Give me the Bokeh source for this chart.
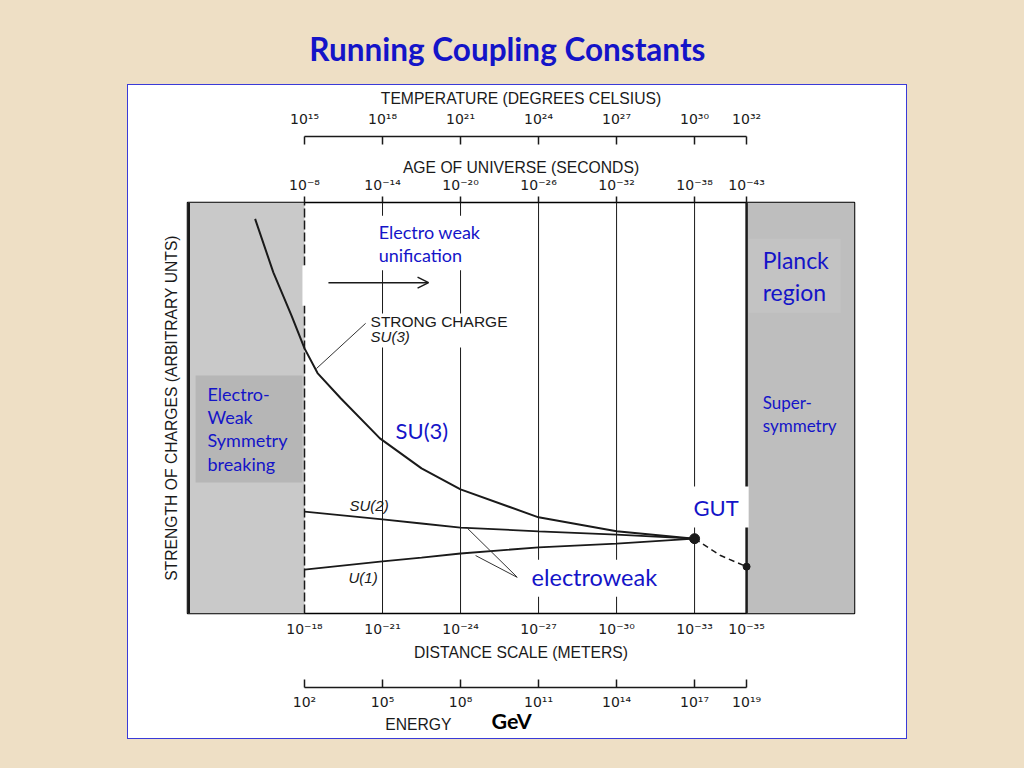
from bokeh.plotting import figure
from bokeh.models import Range1d, LinearAxis, FixedTicker, Arrow, OpenHead, Spacer, Grid
from bokeh.layouts import column, row
from bokeh.core.properties import value
from bokeh.embed import file_html
from bokeh.resources import INLINE

# ---------------- data ----------------
title_text = "Running Coupling Constants"

energy_ticks = [2, 5, 8, 11, 14, 17, 19]          # log10(E / GeV)
energy_labels = ["10²", "10⁵", "10⁸", "10¹¹", "10¹⁴", "10¹⁷", "10¹⁹"]
temperature_labels = ["10¹⁵", "10¹⁸", "10²¹", "10²⁴", "10²⁷", "10³⁰", "10³²"]
age_labels = ["10⁻⁸", "10⁻¹⁴", "10⁻²⁰", "10⁻²⁶", "10⁻³²", "10⁻³⁸", "10⁻⁴³"]
distance_labels = ["10⁻¹⁸", "10⁻²¹", "10⁻²⁴", "10⁻²⁷", "10⁻³⁰", "10⁻³³", "10⁻³⁵"]

grid_energies = [5, 8, 11, 14, 17]
ew_boundary = 2        # electroweak symmetry breaking scale
planck_boundary = 19   # Planck scale

su3_logE = [0.1, 0.8, 1.5, 2.0, 2.5, 3.4, 4.9, 6.5, 8.0, 11.0, 14.0, 17.0]
su3_strength = [96.0, 83.0, 72.5, 64.5, 58.5, 52.3, 42.6, 35.3, 30.2, 23.4, 20.0, 18.2]
su2_logE = [2, 5, 6.5, 8, 11, 14, 17]
su2_strength = [24.8, 22.9, 21.9, 20.9, 20.0, 19.2, 18.2]
u1_logE = [2, 5, 6.5, 8, 11, 14, 17]
u1_strength = [10.7, 12.7, 13.6, 14.6, 16.1, 17.0, 18.2]
susy_logE = [17, 18, 19]
susy_strength = [18.2, 14.1, 11.4]
gut_logE = [17]
gut_strength = [18.2]
planck_end_logE = [19]
planck_end_strength = [11.4]

# ---------------- styles ----------------
BEIGE = "#EEDFC5"
BLUE = "#1414C8"
INK = "#1A1A1A"
SCAN_FONT = "Liberation Sans"
TICK_FONT = "DejaVu Sans"
SLIDE_FONT = "Lato"
PANEL_W = 778
BORDER_L, BORDER_R = 59, 52

x_start, x_end = -2.5, 23.15
y_start, y_end = 0, 100
shared_x = Range1d(x_start, x_end)


def hide_grids(fig):
    for g in fig.select(type=Grid):
        g.visible = False


def strip(height, top, bottom):
    f = figure(width=PANEL_W, height=height, x_range=shared_x, y_range=Range1d(0, 1),
               x_axis_location=None, y_axis_location=None, toolbar_location=None,
               output_backend="svg", min_border_left=BORDER_L, min_border_right=BORDER_R,
               min_border_top=top, min_border_bottom=bottom, outline_line_color=None,
               background_fill_color="white", border_fill_color="white")
    hide_grids(f)
    return f


def scan_axis(labels, title=None, tick_in=0, tick_out=0, line=False,
              standoff=6, title_standoff=5, bounds=None):
    ax = LinearAxis(ticker=FixedTicker(ticks=energy_ticks, minor_ticks=[]),
                    major_label_overrides=dict(zip(energy_ticks, labels)),
                    major_tick_in=tick_in, major_tick_out=tick_out,
                    minor_tick_in=0, minor_tick_out=0,
                    major_tick_line_color=INK if (tick_in or tick_out) else None,
                    major_tick_line_width=1.5,
                    axis_line_color=INK if line else None, axis_line_width=1.5,
                    major_label_standoff=standoff,
                    major_label_text_font=TICK_FONT, major_label_text_font_size="14px",
                    major_label_text_color=INK,
                    axis_label=title, axis_label_standoff=title_standoff,
                    axis_label_text_font=SCAN_FONT, axis_label_text_font_size="15.7px",
                    axis_label_text_font_style="normal", axis_label_text_color=INK)
    if bounds is not None:
        ax.bounds = bounds
    return ax


# ---------------- title figure ----------------
tf = figure(width=1024, height=85, x_range=Range1d(0, 1), y_range=Range1d(0, 1),
            x_axis_location=None, y_axis_location=None, toolbar_location=None,
            output_backend="svg", min_border=0, outline_line_color=None,
            border_fill_color=BEIGE, background_fill_color=BEIGE)
tf.text(x=[0.495], y=[0.435], text=[title_text], text_font=value(SLIDE_FONT),
        text_font_style="bold", text_font_size="31.5px", text_color=BLUE,
        text_align="center", text_baseline="middle")
hide_grids(tf)

# ---------------- temperature strip ----------------
tt = strip(65, 51, 0)
tt.add_layout(scan_axis(temperature_labels, "TEMPERATURE (DEGREES CELSIUS)", tick_in=8, line=True,
                        standoff=10, title_standoff=1,
                        bounds=(energy_ticks[0], energy_ticks[-1])), "above")

# ---------------- main figure ----------------
p = figure(width=PANEL_W, height=514, x_range=shared_x, y_range=Range1d(y_start, y_end),
           x_axis_location=None, y_axis_location=None, toolbar_location=None,
           output_backend="svg", min_border_left=BORDER_L, min_border_right=BORDER_R,
           min_border_top=52, min_border_bottom=51,
           background_fill_color="white", border_fill_color="white",
           outline_line_color="black", outline_line_width=1.5)
hide_grids(p)

p.add_layout(scan_axis(age_labels, "AGE OF UNIVERSE (SECONDS)", tick_out=6, standoff=4,
                       title_standoff=-2), "above")
p.add_layout(scan_axis(distance_labels, "DISTANCE SCALE (METERS)", standoff=7,
                       title_standoff=4), "below")

y_axis = LinearAxis(ticker=FixedTicker(ticks=[], minor_ticks=[]), axis_line_color=None,
                    major_tick_line_color=None, minor_tick_line_color=None,
                    major_tick_out=0, major_tick_in=0, minor_tick_out=0, minor_tick_in=0,
                    major_label_standoff=0,
                    axis_label="STRENGTH OF CHARGES (ARBITRARY UNTS)", axis_label_standoff=8,
                    axis_label_text_font=SCAN_FONT, axis_label_text_font_size="15.7px",
                    axis_label_text_font_style="normal", axis_label_text_color=INK)
p.add_layout(y_axis, "left")

# shaded regions (below EW scale and beyond Planck scale)
p.quad(left=[x_start, planck_boundary], right=[ew_boundary, x_end],
       bottom=[y_start, y_start], top=[y_end, y_end],
       fill_color=["#C9C9C9", "#BEBEBE"], line_color=None)
p.segment(x0=[x_start], y0=[y_start], x1=[x_start], y1=[y_end], line_color=INK, line_width=5)

# vertical lines
p.segment(x0=grid_energies, y0=[y_start] * len(grid_energies), x1=grid_energies,
          y1=[y_end] * len(grid_energies), line_color=INK, line_width=1)
p.segment(x0=[ew_boundary], y0=[y_start], x1=[ew_boundary], y1=[y_end],
          line_color=INK, line_width=1.5, line_dash="9 3")
p.segment(x0=[planck_boundary], y0=[y_start], x1=[planck_boundary], y1=[y_end],
          line_color=INK, line_width=2.5)

# coupling curves
p.line(su3_logE, su3_strength, line_color=INK, line_width=2)
p.line(su2_logE, su2_strength, line_color=INK, line_width=1.8)
p.line(u1_logE, u1_strength, line_color=INK, line_width=1.8)
p.line(susy_logE, susy_strength, line_color=INK, line_width=1.5, line_dash="6 4")
p.scatter(gut_logE, gut_strength, size=10, color=INK)
p.scatter(planck_end_logE, planck_end_strength, size=7, color=INK)

# leader lines
p.segment(x0=[2.46, 8.27, 8.58], y0=[59.6, 20.7, 14.1], x1=[4.35, 10.19, 10.19], y1=[70.6, 8.76, 8.76],
          line_color="#333333", line_width=1)

# label backgrounds
p.quad(left=[1.92, 4.62, 4.38, 10.19, 16.58], right=[2.92, 8.96, 9.92, 15.88, 19.08],
       bottom=[74.9, 83.5, 64.7, 4.1, 20.9], top=[84.7, 96.8, 73.0, 13.1, 30.9],
       fill_color="white", line_color=None)
p.quad(left=[-2.19, 19.08], right=[1.92, 22.62], bottom=[31.9, 73.2], top=[57.9, 91.2],
       fill_color=["#B6B6B6", "#C3C3C3"], line_color=None)

p.add_layout(Arrow(end=OpenHead(size=11, line_width=1.5, line_color=INK),
                   x_start=2.92, y_start=80.5, x_end=6.77, y_end=80.5,
                   line_width=1.5, line_color=INK))

# scanned black labels
p.text(x=[4.54], y=[71.0], text=["STRONG CHARGE"], text_font=value(SCAN_FONT),
       text_font_size="15.5px", text_color=INK, text_baseline="middle")
p.text(x=[4.54, 3.73, 3.69], y=[67.4, 26.3, 8.8], text=["SU(3)", "SU(2)", "U(1)"],
       text_font=value(SCAN_FONT), text_font_style="italic", text_font_size="15px",
       text_color=INK, text_baseline="middle")


# blue slide annotations
def blue(xs, ys, texts, size):
    p.text(x=xs, y=ys, text=texts, text_font=value(SLIDE_FONT), text_font_size=size,
           text_color=BLUE, text_baseline="middle", text_align="left")


blue([4.85, 4.85], [92.9, 87.3], ["Electro weak", "unification"], "18px")
blue([19.62, 19.62], [85.9, 78.3], ["Planck", "region"], "23px")
blue([-1.73] * 4, [53.5, 47.9, 42.1, 36.3], ["Electro-", "Weak", "Symmetry", "breaking"], "18px")
blue([19.62, 19.62], [51.3, 45.7], ["Super-", "symmetry"], "17px")
blue([5.5], [44.5], ["SU(3)"], "22px")
blue([16.96], [25.8], ["GUT"], "22px")
blue([10.73], [8.76], ["electroweak"], "23.5px")

# ---------------- energy strip ----------------
ef = strip(74, 23, 0)
ef.add_layout(scan_axis(energy_labels, None, tick_out=8, line=True, standoff=-30,
                        bounds=(energy_ticks[0], energy_ticks[-1])), "above")
ef.text(x=[6.38], y=[0.265], text=["ENERGY"], text_font=value(SCAN_FONT), text_font_size="15.7px",
        text_color=INK, text_align="center", text_baseline="middle")
ef.text(x=[9.96], y=[0.345], text=["GeV"], text_font=value(SLIDE_FONT), text_font_style="bold",
        text_font_size="21.5px", text_color="black", text_align="center", text_baseline="middle")

panel = column(tt, p, ef, styles={"outline": "1px solid #3A3AD8", "background-color": "white"})
root = column(tf, row(Spacer(width=128, height=653), panel), width=1024, height=768,
              styles={"background-color": BEIGE})

html = file_html(root, INLINE, title=title_text)
html = html.replace("<head>", "<head><style>html,body{background-color:%s;}</style>" % BEIGE, 1)
open("out.html", "w").write(html)
